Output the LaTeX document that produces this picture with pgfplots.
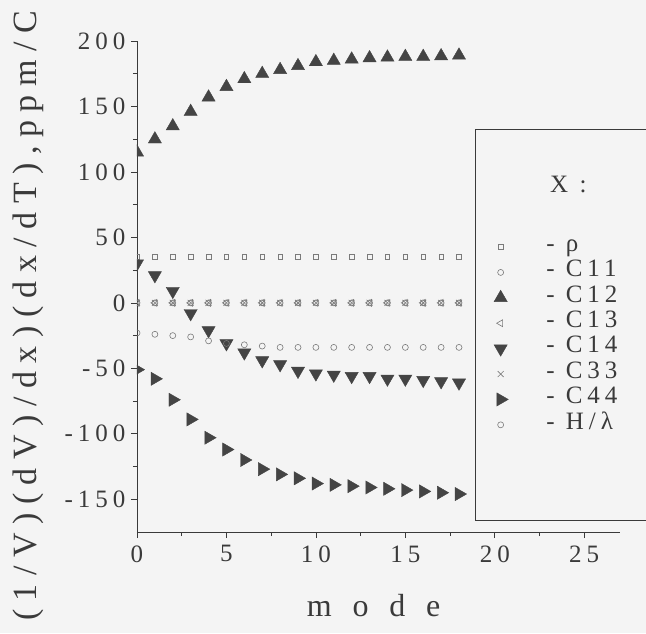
\documentclass[border=0pt]{standalone}
\usepackage{pgfplots}
\pgfplotsset{compat=1.18}
\usepackage{fontspec}
\setmainfont{Liberation Serif}
\newfontfamily\lsp[LetterSpace=20]{Liberation Serif}
\newfontfamily\lspy[LetterSpace=25]{Liberation Serif}
\newfontfamily\lspw[LetterSpace=65]{Liberation Serif}
\definecolor{bg}{HTML}{F4F4F4}
\definecolor{ink}{HTML}{3A3A3A}
\definecolor{tri}{HTML}{444444}
\definecolor{opn}{HTML}{7A7A7A}

\pgfplotstableread{
x rho c11 c12 c13 c14 c33 c44 hl
0 35 0 115 0 30 0 -51 -23
1 35 0 125 0 21 0 -58 -24
2 35 0 135 0 9 0 -74 -25
3 35 0 146 0 -8 0 -89 -26
4 35 0 157 0 -21 0 -103 -29
5 35 0 165 0 -31 0 -112 -31
6 35 0 171 0 -38 0 -120 -32
7 35 0 175 0 -44 0 -127 -33
8 35 0 178 0 -47 0 -131 -34
9 35 0 181 0 -52 0 -134 -34
10 35 0 184 0 -54 0 -138 -34
11 35 0 185 0 -55 0 -139 -34
12 35 0 186 0 -56 0 -140 -34
13 35 0 187 0 -56 0 -141 -34
14 35 0 187.5 0 -58 0 -142 -34
15 35 0 188 0 -58 0 -143 -34
16 35 0 188 0 -59 0 -144 -34
17 35 0 188.5 0 -60 0 -145 -34
18 35 0 189 0 -61 0 -146 -34
}\data

\begin{document}
\begin{tikzpicture}
\fill[bg] (-137pt,-101pt) rectangle (509pt,532pt);
\begin{axis}[
  at={(0pt,0pt)}, anchor=south west,
  scale only axis, width=483pt, height=491pt,
  xmin=0, xmax=27, ymin=-175, ymax=200,
  axis x line*=bottom, axis y line*=left,
  axis line style={-, ink, line width=0.8pt},
  xtick={0,5,...,25}, ytick={-150,-100,...,200},
  minor x tick num=1, minor y tick num=1,
  tick align=outside,
  major tick length=6pt, minor tick length=4pt,
  tick style={ink, line width=0.7pt},
  /pgf/number format/assume math mode=true,
  tick label style={font=\lsp\fontsize{25}{25}\selectfont, text=ink},
  yticklabel style={xshift=-2pt},
  xticklabel style={yshift=-4pt},
  xlabel={mode},
  xlabel style={font=\lspw\fontsize{32}{32}\selectfont, text=ink, at={(rel axis cs:0.49,-0.15)}, anchor=center},
  ylabel={(1/V)(dV)/dx)(dx/dT),ppm/C},
  ylabel style={font=\lspy\fontsize{34}{34}\selectfont, text=ink, at={(rel axis cs:-0.226,0.44)}, anchor=center, rotate=0},
  clip=true, clip mode=global, clip marker paths=true,
  legend cell align=left,
  legend style={at={(axis cs:19.95,52.5)}, anchor=north west, draw=none, fill=none,
    inner sep=0pt, row sep=0pt,
    nodes={inner sep=0pt, text height=17pt, text depth=8.4pt, font=\lsp\fontsize{25}{25}\selectfont, text=ink},
    /tikz/every odd column/.style={column sep=38pt}},
]
\addplot[only marks, mark=square, mark size=2.3pt, opn, mark options={line width=0.6pt}] table[x=x,y=rho]{\data};
\addlegendentry{- ρ}
\addplot[only marks, mark=o, mark size=3pt, opn, mark options={line width=0.6pt}] table[x=x,y=c11]{\data};
\addlegendentry{- C11}
\addplot[only marks, mark=triangle*, mark size=7.6pt, tri, mark options={fill=tri}] table[x=x,y=c12]{\data};
\addlegendentry{- C12}
\addplot[only marks, mark=triangle, mark size=4pt, opn, mark options={rotate=90, line width=0.6pt}] table[x=x,y=c13]{\data};
\addlegendentry{- C13}
\addplot[only marks, mark=triangle*, mark size=7.6pt, tri, mark options={rotate=180, fill=tri}] table[x=x,y=c14]{\data};
\addlegendentry{- C14}
\addplot[only marks, mark=x, mark size=4.2pt, opn, mark options={line width=0.6pt}] table[x=x,y=c33]{\data};
\addlegendentry{- C33}
\addplot[only marks, mark=triangle*, mark size=7.6pt, tri, mark options={rotate=-90, fill=tri}] table[x=x,y=c44]{\data};
\addlegendentry{- C44}
\addplot[only marks, mark=o, mark size=3pt, opn, mark options={line width=0.6pt}] table[x=x,y=hl]{\data};
\addlegendentry{- H/λ}
\end{axis}
\draw[ink, line width=0.8pt] (560pt,403pt) -- (338pt,403pt) -- (338pt,12pt) -- (560pt,12pt);
\node[anchor=base west, inner sep=0pt, font=\lsp\fontsize{25}{25}\selectfont, text=ink] at (413pt,339pt) {X :};
\pgfresetboundingbox
\path (-137pt,-101pt) rectangle (509pt,532pt);
\end{tikzpicture}
\end{document}
